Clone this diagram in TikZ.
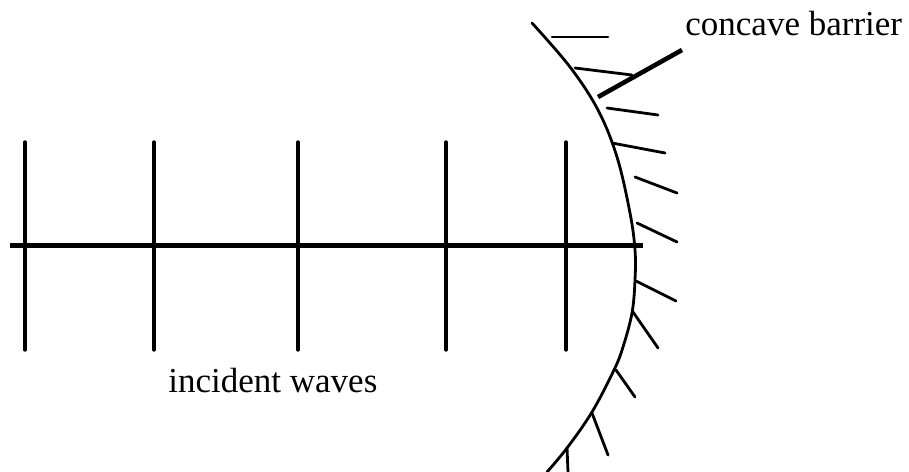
\documentclass[tikz,border=0pt]{standalone}
\usepackage{fontspec}
\setmainfont{Liberation Serif}
\begin{document}
\begin{tikzpicture}[x=0.5pt,y=-0.5pt,
  wave/.style={line width=1.7pt,line cap=round},
  ray/.style={line width=2.5pt},
  barrier/.style={line width=1.4pt,line cap=round},
  hatch/.style={line width=1.4pt,line cap=round},
  pointer/.style={line width=2.3pt},
  lbl/.style={inner sep=0pt,anchor=base west,font=\fontsize{17.5pt}{21pt}\selectfont}]
\useasboundingbox (0,0) rectangle (909,471);
% incident wavefronts
\foreach \n/\x in {1/25,2/154,3/298,4/446,5/566}{
  \coordinate (t\n) at (\x,142);
  \coordinate (b\n) at (\x,350);
  \draw[wave] (t\n) -- (b\n);
}
% ray
\coordinate (rs) at (10,245);
\coordinate (re) at (643,245);
\draw[ray] (rs) -- (re);
% concave barrier
\draw[barrier] plot[smooth,tension=0.6] coordinates{(532,23) (570,67) (598,110) (617,157) (630,213) (635,250) (635,280) (632,313) (623,347) (614,370) (592,412) (567,448) (547,472)};
% hatches
\foreach \a/\b in {{(552,37)}/{(608,37)},{(575,68)}/{(632,75)},{(607,108)}/{(658,115)},{(612,143)}/{(665,153)},{(635,177)}/{(677,193)},{(637,223)}/{(677,242)},{(636,281)}/{(676,301)},{(633,312)}/{(658,348)},{(616,370)}/{(635,397)},{(592,413)}/{(608,455)},{(567,448)}/{(568,472)}}{
  \draw[hatch] \a -- \b;
}
% labels
\node[lbl] (cb) at (685,35) {concave barrier};
\node[lbl] (iw) at (168,392) {incident waves};
\coordinate (ps) at (682,50);
\coordinate (pe) at (598,97);
\draw[pointer] (ps) -- (pe);
\end{tikzpicture}
\end{document}
